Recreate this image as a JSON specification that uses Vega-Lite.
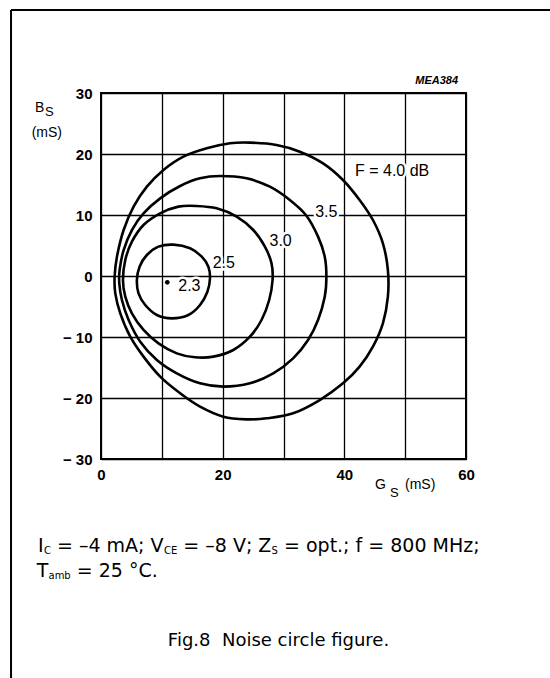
{
  "$schema": "https://vega.github.io/schema/vega-lite/v6.json",
  "width": 365,
  "height": 366,
  "autosize": {"type": "none"},
  "padding": {"left": 101, "top": 93, "right": 84, "bottom": 219},
  "background": "white",
  "config": {"view": {"stroke": "black", "strokeWidth": 2}, "font": "Liberation Sans"},
  "datasets": {
    "curves": [
      {"c":"4.0","i":0,"G":24.48,"B":21.86},{"c":"4.0","i":1,"G":28.85,"B":21.48},{"c":"4.0","i":2,"G":32.68,"B":20.38},{"c":"4.0","i":3,"G":36.5,"B":18.47},{"c":"4.0","i":4,"G":39.78,"B":15.74},{"c":"4.0","i":5,"G":42.51,"B":12.46},{"c":"4.0","i":6,"G":44.7,"B":9.18},{"c":"4.0","i":7,"G":46.34,"B":5.36},{"c":"4.0","i":8,"G":47.16,"B":0.98},{"c":"4.0","i":9,"G":47.16,"B":-3.39},{"c":"4.0","i":10,"G":46.34,"B":-7.76},{"c":"4.0","i":11,"G":44.7,"B":-11.58},{"c":"4.0","i":12,"G":42.51,"B":-14.86},{"c":"4.0","i":13,"G":39.78,"B":-17.6},{"c":"4.0","i":14,"G":35.96,"B":-20.33},{"c":"4.0","i":15,"G":31.58,"B":-22.51},{"c":"4.0","i":16,"G":27.21,"B":-23.33},{"c":"4.0","i":17,"G":23.93,"B":-23.5},{"c":"4.0","i":18,"G":20.11,"B":-23.06},{"c":"4.0","i":19,"G":16.28,"B":-21.42},{"c":"4.0","i":20,"G":13.01,"B":-19.23},{"c":"4.0","i":21,"G":9.73,"B":-16.5},{"c":"4.0","i":22,"G":6.99,"B":-13.22},{"c":"4.0","i":23,"G":4.81,"B":-9.95},{"c":"4.0","i":24,"G":3.17,"B":-6.12},{"c":"4.0","i":25,"G":2.35,"B":-2.84},{"c":"4.0","i":26,"G":2.24,"B":-0.11},{"c":"4.0","i":27,"G":2.62,"B":3.17},{"c":"4.0","i":28,"G":3.72,"B":7.54},{"c":"4.0","i":29,"G":5.36,"B":11.37},{"c":"4.0","i":30,"G":7.54,"B":14.64},{"c":"4.0","i":31,"G":10.27,"B":17.38},{"c":"4.0","i":32,"G":13.55,"B":19.56},{"c":"4.0","i":33,"G":17.38,"B":20.93},{"c":"4.0","i":34,"G":21.2,"B":21.75},
      {"c":"3.5","i":0,"G":19.56,"B":16.39},{"c":"3.5","i":1,"G":23.93,"B":16.01},{"c":"3.5","i":2,"G":27.76,"B":14.64},{"c":"3.5","i":3,"G":31.04,"B":12.46},{"c":"3.5","i":4,"G":33.77,"B":9.89},{"c":"3.5","i":5,"G":35.68,"B":6.45},{"c":"3.5","i":6,"G":36.78,"B":3.17},{"c":"3.5","i":7,"G":37.05,"B":-0.11},{"c":"3.5","i":8,"G":36.78,"B":-3.39},{"c":"3.5","i":9,"G":35.68,"B":-7.21},{"c":"3.5","i":10,"G":34.04,"B":-10.49},{"c":"3.5","i":11,"G":31.58,"B":-13.5},{"c":"3.5","i":12,"G":28.31,"B":-15.96},{"c":"3.5","i":13,"G":24.48,"B":-17.6},{"c":"3.5","i":14,"G":20.11,"B":-18.14},{"c":"3.5","i":15,"G":16.28,"B":-17.6},{"c":"3.5","i":16,"G":12.46,"B":-15.96},{"c":"3.5","i":17,"G":9.18,"B":-13.77},{"c":"3.5","i":18,"G":6.45,"B":-10.77},{"c":"3.5","i":19,"G":4.54,"B":-7.21},{"c":"3.5","i":20,"G":3.44,"B":-3.93},{"c":"3.5","i":21,"G":3.01,"B":-1.2},{"c":"3.5","i":22,"G":3.06,"B":0.98},{"c":"3.5","i":23,"G":3.72,"B":4.26},{"c":"3.5","i":24,"G":5.08,"B":7.54},{"c":"3.5","i":25,"G":6.99,"B":10.27},{"c":"3.5","i":26,"G":9.73,"B":12.73},{"c":"3.5","i":27,"G":13.01,"B":14.75},{"c":"3.5","i":28,"G":16.28,"B":16.01},
      {"c":"3.0","i":0,"G":15.74,"B":11.48},{"c":"3.0","i":1,"G":19.02,"B":11.09},{"c":"3.0","i":2,"G":22.3,"B":9.73},{"c":"3.0","i":3,"G":25.03,"B":7.54},{"c":"3.0","i":4,"G":26.94,"B":4.81},{"c":"3.0","i":5,"G":28.03,"B":2.08},{"c":"3.0","i":6,"G":28.2,"B":-0.66},{"c":"3.0","i":7,"G":27.65,"B":-3.93},{"c":"3.0","i":8,"G":26.39,"B":-7.21},{"c":"3.0","i":9,"G":24.48,"B":-9.95},{"c":"3.0","i":10,"G":21.75,"B":-12.13},{"c":"3.0","i":11,"G":18.47,"B":-13.22},{"c":"3.0","i":12,"G":15.46,"B":-13.33},{"c":"3.0","i":13,"G":12.46,"B":-12.68},{"c":"3.0","i":14,"G":9.45,"B":-11.04},{"c":"3.0","i":15,"G":6.99,"B":-8.85},{"c":"3.0","i":16,"G":5.08,"B":-6.12},{"c":"3.0","i":17,"G":3.99,"B":-3.39},{"c":"3.0","i":18,"G":3.61,"B":-0.66},{"c":"3.0","i":19,"G":3.99,"B":2.62},{"c":"3.0","i":20,"G":5.08,"B":5.63},{"c":"3.0","i":21,"G":6.99,"B":8.36},{"c":"3.0","i":22,"G":9.73,"B":10.27},{"c":"3.0","i":23,"G":12.73,"B":11.37},
      {"c":"2.5","i":0,"G":11.91,"B":5.14},{"c":"2.5","i":1,"G":14.64,"B":4.54},{"c":"2.5","i":2,"G":16.56,"B":3.17},{"c":"2.5","i":3,"G":17.65,"B":1.53},{"c":"2.5","i":4,"G":17.92,"B":-0.38},{"c":"2.5","i":5,"G":17.49,"B":-2.57},{"c":"2.5","i":6,"G":16.28,"B":-4.75},{"c":"2.5","i":7,"G":14.37,"B":-6.39},{"c":"2.5","i":8,"G":11.64,"B":-6.94},{"c":"2.5","i":9,"G":9.18,"B":-6.39},{"c":"2.5","i":10,"G":7.27,"B":-4.75},{"c":"2.5","i":11,"G":6.17,"B":-2.84},{"c":"2.5","i":12,"G":5.9,"B":-0.66},{"c":"2.5","i":13,"G":6.34,"B":1.53},{"c":"2.5","i":14,"G":7.54,"B":3.44},{"c":"2.5","i":15,"G":9.45,"B":4.81}
    ],
    "labels": [
      {"t":"F = 4.0 dB","G":41.75,"B":17.2},
      {"t":"3.5","G":35.2,"B":10.5},
      {"t":"3.0","G":27.7,"B":5.8},
      {"t":"2.5","G":18.36,"B":2.2},
      {"t":"2.3","G":12.7,"B":-1.6}
    ],
    "frame": [
      {"G":-14.79,"B":43.61,"G2":73.81,"B2":43.61},
      {"G":-14.79,"B":43.61,"G2":-14.79,"B2":-65.9}
    ]
  },
  "encoding": {
    "x": {"field": "G", "type": "quantitative", "scale": {"domain": [0, 60], "nice": false, "zero": false},
      "axis": {"values": [0, 10, 20, 30, 40, 50, 60], "labelExpr": "datum.value % 20 == 0 ? datum.label : ''", "grid": true, "gridColor": "black", "gridWidth": 1.3, "gridOpacity": 1, "domain": false, "ticks": false, "labelFont": "Liberation Sans", "labelFontWeight": "bold", "labelFontSize": 15, "labelColor": "black", "labelPadding": 8, "labelFlush": false, "labelOverlap": false, "title": null}},
    "y": {"field": "B", "type": "quantitative", "scale": {"domain": [-30, 30], "nice": false, "zero": false},
      "axis": {"values": [-30, -20, -10, 0, 10, 20, 30], "labelExpr": "datum.value < 0 ? '\u2212 ' + abs(datum.value) : datum.label", "grid": true, "gridColor": "black", "gridWidth": 1.3, "gridOpacity": 1, "domain": false, "ticks": false, "labelFont": "Liberation Sans", "labelFontWeight": "bold", "labelFontSize": 15, "labelColor": "black", "labelPadding": 9, "labelFlush": false, "labelOverlap": false, "title": null}}
  },
  "layer": [
    {
      "data": {"name": "curves"},
      "mark": {"type": "line", "interpolate": "cardinal-closed", "color": "black", "strokeWidth": 2.6},
      "encoding": {
        "detail": {"field": "c"},
        "order": {"field": "i", "type": "quantitative"}
      }
    },
    {
      "data": {"values": [{"G": 10.9, "B": -1.03}]},
      "mark": {"type": "point", "filled": true, "color": "black", "size": 22, "opacity": 1},
      "encoding": {}
    },
    {
      "data": {"name": "labels"},
      "mark": {"type": "text", "align": "left", "baseline": "middle", "font": "Liberation Sans", "fontSize": 16, "fill": "white", "stroke": "white", "strokeWidth": 5},
      "encoding": {"text": {"field": "t"}}
    },
    {
      "data": {"name": "labels"},
      "mark": {"type": "text", "align": "left", "baseline": "middle", "font": "Liberation Sans", "fontSize": 16, "color": "black"},
      "encoding": {"text": {"field": "t"}}
    },
    {
      "data": {"values": [{"t": "MEA384", "G": 58.7, "B": 31.48}]},
      "mark": {"type": "text", "align": "right", "baseline": "alphabetic", "font": "Liberation Sans", "fontSize": 11, "fontWeight": "bold", "fontStyle": "italic", "color": "black"},
      "encoding": {"text": {"field": "t"}}
    },
    {
      "data": {"values": [{"t": "B", "G": -10.85, "B": 26.93}, {"t": "G", "G": 45.04, "B": -34.97}, {"t": "(mS)", "G": -11.39, "B": 22.79}, {"t": "(mS)", "G": 49.98, "B": -34.92}]},
      "mark": {"type": "text", "align": "left", "baseline": "alphabetic", "font": "Liberation Sans", "fontSize": 14, "color": "black"},
      "encoding": {"text": {"field": "t"}}
    },
    {
      "data": {"values": [{"t": "S", "G": -9.2, "B": 26.23}, {"t": "S", "G": 47.5, "B": -36.18}]},
      "mark": {"type": "text", "align": "left", "baseline": "alphabetic", "font": "Liberation Sans", "fontSize": 13, "color": "black"},
      "encoding": {"text": {"field": "t"}}
    },
    {
      "data": {"values": [
        {"t": "I", "G": -10.36, "B": -45.2},
        {"t": "= \u20134 mA; V", "G": -7.23, "B": -45.2},
        {"t": "= \u20138 V; Z", "G": 13.53, "B": -45.2},
        {"t": "= opt.; f = 800 MHz;", "G": 30.08, "B": -45.2},
        {"t": "T", "G": -10.57, "B": -49.34},
        {"t": "= 25 \u00b0C.", "G": -3.99, "B": -49.34}
      ]},
      "mark": {"type": "text", "align": "left", "baseline": "alphabetic", "font": "DejaVu Sans", "fontSize": 19, "color": "black"},
      "encoding": {"text": {"field": "t"}}
    },
    {
      "data": {"values": [
        {"t": "C", "G": -9.37, "B": -45.57},
        {"t": "CE", "G": 10.36, "B": -45.57},
        {"t": "S", "G": 28.03, "B": -45.57},
        {"t": "amb", "G": -8.63, "B": -49.67}
      ]},
      "mark": {"type": "text", "align": "left", "baseline": "alphabetic", "font": "DejaVu Sans", "fontSize": 10, "color": "black"},
      "encoding": {"text": {"field": "t"}}
    },
    {
      "data": {"values": [{"t": "Fig.8\u00a0\u00a0Noise circle figure.", "G": 29.18, "B": -60.66}]},
      "mark": {"type": "text", "align": "center", "baseline": "alphabetic", "font": "DejaVu Sans", "fontSize": 18, "color": "black"},
      "encoding": {"text": {"field": "t"}}
    },
    {
      "data": {"name": "frame"},
      "mark": {"type": "rule", "color": "black", "strokeWidth": 2},
      "encoding": {
        "x2": {"field": "G2"},
        "y2": {"field": "B2"}
      }
    }
  ]
}
